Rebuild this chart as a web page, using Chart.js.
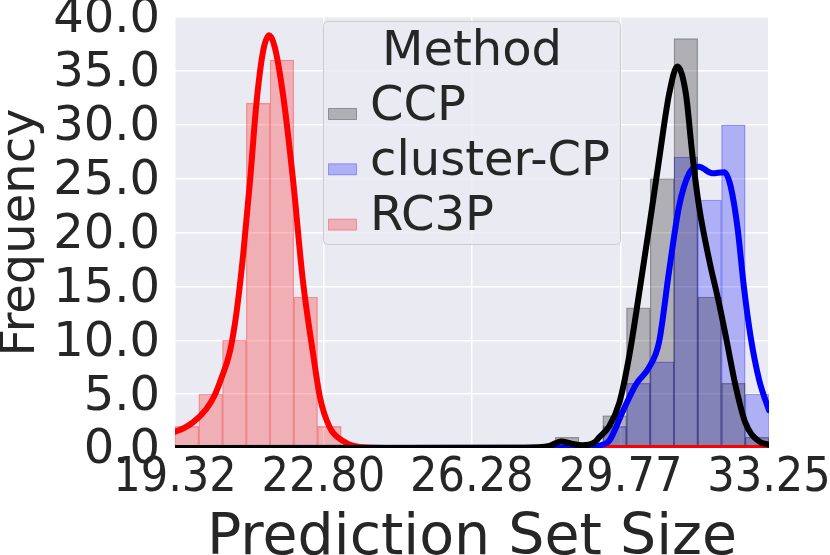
<!DOCTYPE html>
<html>
<head>
<meta charset="utf-8">
<script src="https://cdn.jsdelivr.net/npm/chart.js@4.4.1/dist/chart.umd.min.js"></script>
<style>
  html, body { margin: 0; padding: 0; background: #fff; }
  #wrap { width: 830px; height: 555px; }
</style>
</head>
<body>
<div id="wrap"><canvas id="sizeChart" width="830" height="555"></canvas></div>
<script>
// Prediction set size: histogram + KDE for each method

const methods = ['CCP', 'cluster-CP', 'RC3P'];

// histogram bin centers and counts (bin width ~0.557)
const ccpBins = [28.514, 29.629, 30.186, 30.743, 31.300, 31.857, 32.415, 32.972];
const ccpCounts = [1, 3, 13, 25, 38, 14, 6, 1];
const clusterBins = [29.629, 30.186, 30.743, 31.300, 31.857, 32.415, 32.972];
const clusterCounts = [2, 6, 8, 27, 23, 30, 5];
const rc3pBins = [19.599, 20.156, 20.713, 21.270, 21.827, 22.385, 22.942];
const rc3pCounts = [2, 5, 10, 32, 36, 14, 2];

// KDE curves
const ccpKdeX = [19.32, 24.0, 27.5, 28.10, 28.37, 28.62, 28.87, 29.15, 29.27, 29.50, 29.74, 29.97, 30.21, 30.44, 30.67, 30.91, 31.10, 31.30, 31.45, 31.61, 31.85, 32.08, 32.24, 32.47, 32.70, 33.02, 33.25];
const ccpKdeY = [0.0, 0.0, 0.03, 0.2, 0.6, 0.4, 0.25, 0.5, 1.0, 2.0, 4.2, 8.5, 14.5, 20.5, 26.7, 32.9, 35.4, 32.9, 27.3, 22.4, 17.4, 13.4, 10.3, 5.7, 2.3, 0.6, 0.3];
const clusterKdeX = [19.32, 27.5, 29.0, 29.34, 29.50, 29.82, 30.13, 30.44, 30.67, 30.91, 31.14, 31.38, 31.61, 31.92, 32.20, 32.35, 32.51, 32.66, 32.82, 33.02, 33.25];
const clusterKdeY = [0.0, 0.02, 0.1, 0.3, 0.65, 3.4, 5.9, 7.5, 9.8, 16.5, 22.4, 25.5, 26.1, 25.5, 25.6, 24.3, 20.5, 15.0, 10.3, 6.3, 3.5];
const rc3pKdeX = [19.32, 19.55, 19.75, 20.05, 20.25, 20.40, 20.61, 20.76, 20.92, 21.08, 21.23, 21.39, 21.53, 21.66, 21.86, 22.09, 22.32, 22.56, 22.72, 22.95, 23.26, 23.65, 24.5, 33.25];
const rc3pKdeY = [1.5, 1.9, 2.4, 3.6, 4.9, 6.4, 9.0, 12.5, 18.0, 24.8, 32.0, 36.9, 38.3, 37.2, 32.6, 24.8, 15.5, 8.7, 4.7, 1.9, 0.65, 0.1, 0.0, 0.0];

// axis ticks
const xTicks = [19.32, 22.80, 26.28, 29.77, 33.25];
const yTicks = [0, 5, 10, 15, 20, 25, 30, 35, 40];

const toPoints = (xs, ys) => xs.map((x, i) => ({ x: x, y: ys[i] }));

const textColor = '#262626';

function histSet(label, bins, counts, fill, edge) {
  return {
    type: 'bar',
    label: label,
    data: toPoints(bins, counts),
    backgroundColor: fill,
    borderColor: edge,
    borderWidth: 0.6,
    grouped: false,
    barPercentage: 1,
    categoryPercentage: 1,
    order: 5
  };
}

function kdeSet(label, xs, ys, color, order) {
  return {
    type: 'line',
    label: label,
    data: toPoints(xs, ys),
    borderColor: color,
    borderWidth: 6,
    pointRadius: 0,
    fill: false,
    cubicInterpolationMode: 'monotone',
    borderJoinStyle: 'round',
    borderCapStyle: 'round',
    clip: 0,
    order: order
  };
}

// plot area background (seaborn darkgrid)
const plotBg = {
  id: 'plotBg',
  beforeDraw(chart) {
    const { ctx, chartArea: a } = chart;
    ctx.save();
    ctx.fillStyle = '#EAEAF2';
    ctx.fillRect(a.left, a.top, a.right - a.left, a.bottom - a.top);
    ctx.restore();
  }
};

// legend box with title, drawn inside the axes
const methodLegend = {
  id: 'methodLegend',
  afterDraw(chart) {
    const ctx = chart.ctx;
    const x0 = 323.5, y0 = 21.5, w = 297, h = 223;
    ctx.save();
    ctx.fillStyle = 'rgba(234,234,242,0.8)';
    ctx.strokeStyle = '#CCCCCC';
    ctx.lineWidth = 1;
    ctx.beginPath();
    if (ctx.roundRect) ctx.roundRect(x0, y0, w, h, 4); else ctx.rect(x0, y0, w, h);
    ctx.fill();
    ctx.stroke();
    ctx.fillStyle = textColor;
    ctx.font = '48px "DejaVu Sans"';
    ctx.textBaseline = 'alphabetic';
    ctx.textAlign = 'center';
    ctx.fillText('Method', x0 + w / 2, 65);
    ctx.textAlign = 'left';
    const bars = chart.data.datasets.filter(d => d.type === 'bar');
    bars.forEach((d, i) => {
      const base = 119.5 + i * 55.3;
      ctx.fillStyle = d.backgroundColor;
      ctx.fillRect(328.5, base - 11, 28, 11);
      ctx.strokeStyle = d.borderColor;
      ctx.strokeRect(328.5, base - 11, 28, 11);
      ctx.fillStyle = textColor;
      ctx.fillText(d.label, 370, base);
    });
    ctx.restore();
  }
};

const ctx = document.getElementById('sizeChart').getContext('2d');
const sizeChart = new Chart(ctx, {
  type: 'line',
  data: {
    datasets: [
      histSet(methods[0], ccpBins, ccpCounts, 'rgba(0,0,0,0.25)', 'rgba(0,0,0,0.3)'),
      histSet(methods[1], clusterBins, clusterCounts, 'rgba(0,0,255,0.25)', 'rgba(0,0,255,0.3)'),
      histSet(methods[2], rc3pBins, rc3pCounts, 'rgba(255,0,0,0.25)', 'rgba(255,0,0,0.3)'),
      kdeSet(methods[0], ccpKdeX, ccpKdeY, '#000000', 1),
      kdeSet(methods[1], clusterKdeX, clusterKdeY, '#0000FF', 2),
      kdeSet(methods[2], rc3pKdeX, rc3pKdeY, '#FF0000', 3)
    ]
  },
  options: {
    responsive: false,
    animation: false,
    layout: { padding: { top: 17, right: 61, left: 0, bottom: 0 } },
    plugins: {
      legend: { display: false },
      tooltip: { enabled: false }
    },
    scales: {
      x: {
        type: 'linear',
        min: 19.32,
        max: 33.25,
        offset: false,
        afterBuildTicks: s => { s.ticks = xTicks.map(v => ({ value: v })); },
        afterFit: s => { s.height = 107; s.paddingLeft = 0; s.paddingRight = 0; },
        grid: { color: '#FFFFFF', lineWidth: 1.5, drawTicks: false, offset: false },
        border: { display: false },
        ticks: {
          autoSkip: false,
          maxRotation: 0,
          padding: 2,
          color: textColor,
          font: { size: 48, family: '"DejaVu Sans Condensed", "DejaVu Sans"' },
          callback: v => Number(v).toFixed(2)
        },
        title: {
          display: true,
          text: 'Prediction Set Size',
          color: textColor,
          padding: 0,
          font: { size: 57, family: '"DejaVu Sans"', lineHeight: 0.55 }
        }
      },
      y: {
        min: 0,
        max: 40,
        afterBuildTicks: s => { s.ticks = yTicks.map(v => ({ value: v })); },
        afterFit: s => { s.width = 175; s.paddingTop = 0; s.paddingBottom = 0; },
        grid: { color: '#FFFFFF', lineWidth: 1.5, drawTicks: false },
        border: { display: false },
        ticks: {
          autoSkip: false,
          padding: 15,
          color: textColor,
          // empty first line nudges the label a few px below the gridline
          font: { size: 48, family: '"DejaVu Sans"', lineHeight: 0.125 },
          callback: v => ['', Number(v).toFixed(1)]
        },
        title: {
          display: true,
          text: 'Frequency',
          color: textColor,
          padding: 0,
          font: { size: 48, family: '"DejaVu Sans"', lineHeight: 0.9 }
        }
      }
    }
  },
  plugins: [plotBg, methodLegend]
});
</script>
</body>
</html>
